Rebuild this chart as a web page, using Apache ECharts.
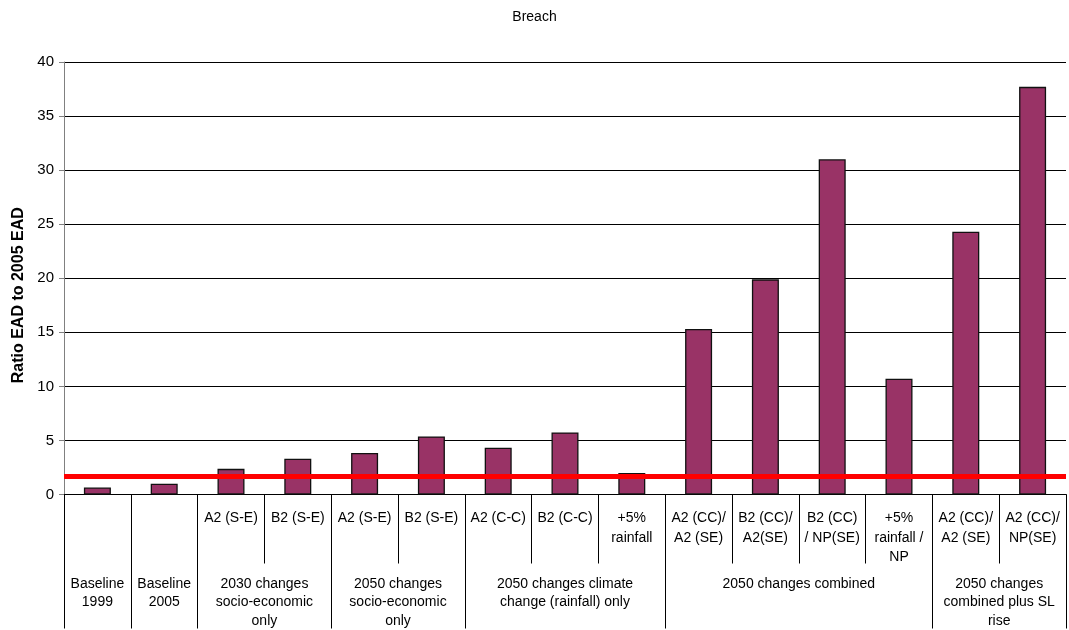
<!DOCTYPE html>
<html><head><meta charset="utf-8">
<script src="https://cdn.jsdelivr.net/npm/echarts@6/dist/echarts.min.js"></script>
<style>html,body{margin:0;padding:0;background:#fff}#c{width:1069px;height:630px}</style>
</head><body><div id="c"></div>
<script>
const categories = ['', '', 'A2 (S-E)', 'B2 (S-E)', 'A2 (S-E)', 'B2 (S-E)', 'A2 (C-C)', 'B2 (C-C)', '+5%\nrainfall',
  'A2 (CC)/\nA2 (SE)', 'B2 (CC)/\nA2(SE)', 'B2 (CC)\n/ NP(SE)', '+5%\nrainfall /\nNP', 'A2 (CC)/\nA2 (SE)', 'A2 (CC)/\nNP(SE)'];
const groups = ['Baseline\n1999', 'Baseline\n2005', '2030 changes\nsocio-economic\nonly', '2050 changes\nsocio-economic\nonly',
  '2050 changes climate\nchange (rainfall) only', '2050 changes combined', '2050 changes\ncombined plus SL\nrise'];
const groupSizes = [1, 1, 2, 2, 3, 4, 2];
const ratioValues = [0.65, 1.0, 2.37, 3.3, 3.84, 5.37, 4.33, 5.74, 2.0, 15.3, 19.9, 31.0, 10.7, 24.3, 37.7];
const thresholdValue = 1.65;
const yMin = 0, yMax = 40, yStep = 5;
const chartTitle = 'Breach';
const yTitle = 'Ratio EAD to 2005 EAD';

// half-category positions for the group axis
const halfCount = categories.length * 2;
const halfLabels = {};
const boundarySet = new Set();
let start = 0;
groupSizes.forEach((n, i) => {
  boundarySet.add(2 * start);
  halfLabels[2 * start + n] = groups[i];
  start += n;
});
boundarySet.add(2 * start);
const halfData = [];
for (let k = 0; k <= halfCount; k++) halfData.push('h' + k);
const catData = categories.map((c, i) => 'c' + i);

const font = 'Liberation Sans, Arial, sans-serif';
const chart = echarts.init(document.getElementById('c'), null, {renderer: 'canvas'});
chart.setOption({
  backgroundColor: '#fff',
  animation: false,
  title: {text: chartTitle, left: 'center', top: 5,
    textStyle: {fontFamily: font, fontSize: 14, fontWeight: 'normal', color: '#000'}},
  grid: {left: 64, right: 3, top: 62, bottom: 134, containLabel: false},
  xAxis: [
    {type: 'category', data: catData, position: 'bottom', boundaryGap: true,
      axisLine: {show: true, lineStyle: {color: '#000', width: 1}},
      axisTick: {show: true, length: 69, interval: 0, lineStyle: {color: '#000'}},
      axisLabel: {interval: 0, margin: 14, fontFamily: font, fontSize: 14, color: '#000', lineHeight: 19.5,
        hideOverlap: false, formatter: v => categories[+v.slice(1)]}},
    {type: 'category', data: halfData, position: 'bottom', boundaryGap: false, offset: 0,
      axisLine: {show: false},
      axisTick: {show: true, length: 134, interval: (i) => boundarySet.has(i), lineStyle: {color: '#000'}},
      axisLabel: {interval: (i) => halfLabels[i] !== undefined, margin: 80, fontFamily: font, fontSize: 14,
        color: '#000', lineHeight: 18.5, hideOverlap: false,
        formatter: v => halfLabels[+v.slice(1)] || ''}}
  ],
  yAxis: {type: 'value', min: yMin, max: yMax, interval: yStep,
    name: yTitle, nameLocation: 'middle', nameGap: 37,
    nameTextStyle: {fontFamily: font, fontSize: 16, fontWeight: 'bold', color: '#000', padding: [0, 34, 0, 0]},
    axisLine: {show: true, lineStyle: {color: '#808080', width: 1}},
    axisTick: {show: true, length: 5, lineStyle: {color: '#808080'}},
    axisLabel: {margin: 10, fontFamily: font, fontSize: 15, color: '#000'},
    splitLine: {show: true, lineStyle: {color: '#000', width: 1}}},
  series: [{
    type: 'bar', xAxisIndex: 0, data: ratioValues, barWidth: 27,
    itemStyle: {color: '#993366', borderColor: '#111', borderWidth: 1.3},
    markLine: {silent: true, symbol: 'none', label: {show: false},
      lineStyle: {color: '#ff0000', width: 5, type: 'solid'},
      data: [{yAxis: thresholdValue}]}
  }]
});
</script></body></html>
